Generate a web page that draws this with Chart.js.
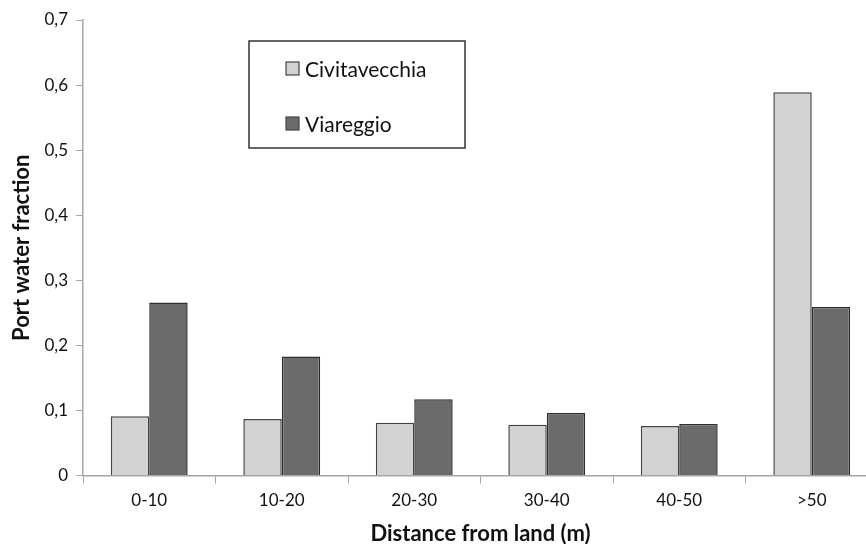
<!DOCTYPE html>
<html>
<head>
<meta charset="utf-8">
<script src="https://cdn.jsdelivr.net/npm/chart.js@4/dist/chart.umd.min.js"></script>
<style>
  html, body { margin: 0; padding: 0; background: #fff; overflow: hidden; }
  #wrap { width: 880px; height: 544px; }
</style>
</head>
<body>
<div id="wrap"><canvas id="c"></canvas></div>
<script>
// 거리 구간별 항구 물 비율
const distanceList = ['0-10', '10-20', '20-30', '30-40', '40-50', '>50'];
const civitavecchia = [0.091, 0.087, 0.081, 0.078, 0.076, 0.589];
const viareggio = [0.266, 0.183, 0.117, 0.096, 0.079, 0.259];
const yTicks = [0, 0.1, 0.2, 0.3, 0.4, 0.5, 0.6, 0.7];

const lightColor = '#d2d2d2';
const darkColor = '#6b6b6b';
const axisColor = '#a6a6a6';
const font = 'Lato, "Open Sans", sans-serif';

// 그림 안쪽 범례 박스
const boxLegend = {
  id: 'boxLegend',
  afterDraw(chart) {
    const ctx = chart.ctx;
    ctx.save();
    ctx.strokeStyle = '#333';
    ctx.lineWidth = 1.5;
    ctx.strokeRect(249, 41, 216, 107);
    ctx.font = '21px ' + font;
    ctx.textBaseline = 'middle';
    chart.data.datasets.forEach((ds, i) => {
      const cy = 69 + i * 55;
      ctx.fillStyle = ds.backgroundColor;
      ctx.fillRect(286, cy - 7, 13, 13);
      ctx.lineWidth = 1.2;
      ctx.strokeStyle = '#444';
      ctx.strokeRect(286, cy - 7, 13, 13);
      ctx.fillStyle = '#111';
      ctx.fillText(ds.label, 305, cy + 1);
    });
    ctx.restore();
  }
};

new Chart(document.getElementById('c'), {
  type: 'bar',
  data: {
    labels: distanceList,
    datasets: [
      {
        label: 'Civitavecchia',
        data: civitavecchia,
        backgroundColor: lightColor,
        borderColor: '#444',
        borderWidth: 1.5,
        borderSkipped: 'bottom',
        categoryPercentage: 0.58,
        barPercentage: 1
      },
      {
        label: 'Viareggio',
        data: viareggio,
        backgroundColor: darkColor,
        borderColor: '#2e2e2e',
        borderWidth: 1.5,
        borderSkipped: 'bottom',
        categoryPercentage: 0.58,
        barPercentage: 1
      }
    ]
  },
  plugins: [boxLegend],
  options: {
    responsive: true,
    maintainAspectRatio: false,
    animation: false,
    layout: { padding: { top: 20, right: 2, left: 0, bottom: 0 } },
    plugins: {
      legend: { display: false },
      tooltip: { enabled: false }
    },
    scales: {
      x: {
        grid: { drawOnChartArea: false, drawTicks: true, tickLength: 8, color: axisColor },
        border: { color: axisColor, width: 1.5 },
        ticks: { color: '#111', font: { family: font, size: 17 }, padding: 7 },
        title: {
          display: true,
          text: 'Distance from land (m)',
          color: '#111',
          font: { family: font, size: 22, weight: 'bold' },
          padding: { top: 0, bottom: -3 }
        },
        afterFit(scale) { scale.height = 68.5; }
      },
      y: {
        min: 0,
        max: 0.7,
        afterBuildTicks(scale) { scale.ticks = yTicks.map(v => ({ value: v })); },
        grid: { drawOnChartArea: false, drawTicks: true, tickLength: 7, color: axisColor },
        border: { color: axisColor, width: 1.5 },
        ticks: {
          color: '#111',
          font: { family: font, size: 17 },
          padding: 8,
          callback: v => v === 0 ? '0' : v.toFixed(1).replace('.', ',')
        },
        title: {
          display: true,
          text: 'Port water fraction',
          color: '#111',
          font: { family: font, size: 22, weight: 'bold' },
          padding: { top: 9, bottom: 0 }
        },
        afterFit(scale) { scale.width = 83; }
      }
    }
  }
});
</script>
</body>
</html>
